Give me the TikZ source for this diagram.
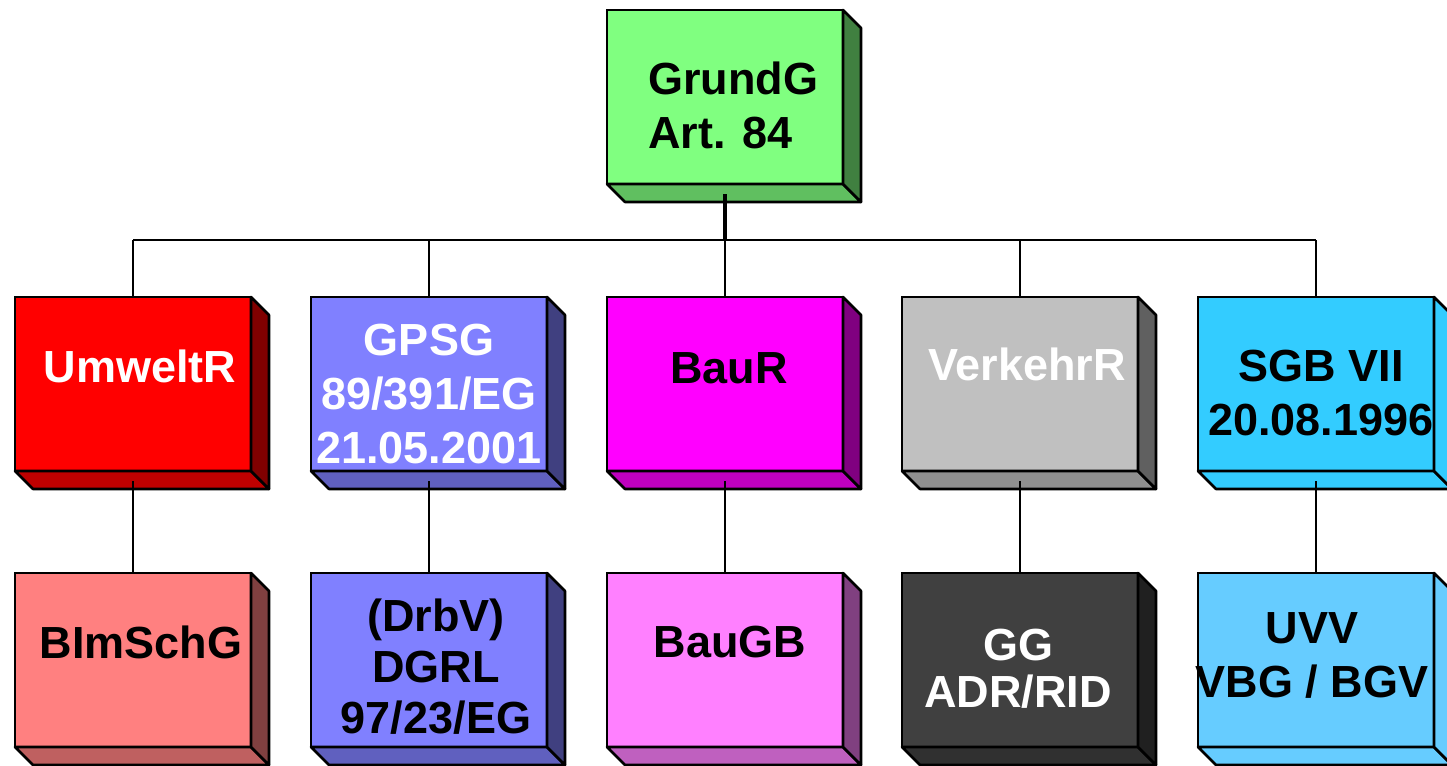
\documentclass[tikz,border=0pt]{standalone}
\usepackage{fontspec}
\setmainfont{Liberation Sans}
\definecolor{grundgreen}{HTML}{80FF80}
\definecolor{umwred}{HTML}{FF0000}
\definecolor{gpsgblue}{HTML}{8080FF}
\definecolor{baumag}{HTML}{FF00FF}
\definecolor{verkgray}{HTML}{C0C0C0}
\definecolor{sgbcyan}{HTML}{33CCFF}
\definecolor{bimsalmon}{HTML}{FF8080}
\definecolor{baugbpink}{HTML}{FF80FF}
\definecolor{ggdark}{HTML}{404040}
\definecolor{uvvblue}{HTML}{66CCFF}
\usetikzlibrary{calc}

\tikzset{
  face/.style={draw, line width=2.6pt, minimum width=236pt, minimum height=174pt,
    inner sep=0pt, outer sep=0pt, anchor=north west},
  side/.style={draw, line width=2.6pt, line join=round},
  conn/.style={line width=2.5pt},
  lbl/.style={font=\fontsize{45}{54}\selectfont\bfseries, align=center,
    anchor=base, inner sep=0pt},
}

% front face, then the right and bottom faces
\newcommand{\lawbox}[6]{%
  \node[face, fill=#4] (#1) at (#2,#3) {};
  \filldraw[side, fill=#6] (#1.south west) -- ++(18,18) -- ++(236,0) -- (#1.south east) -- cycle;
  \filldraw[side, fill=#5] (#1.north east) -- ++(18,18) -- ++(0,174) -- (#1.south east) -- cycle;
}

\begin{document}
\begin{tikzpicture}[x=1pt, y={(0pt,-1pt)}]
  \clip (0,0) rectangle (1447,765);

  % boxes
  \lawbox{grund}{607}{10}{grundgreen}{grundgreen!50!black}{grundgreen!75!black}
  \lawbox{umw}{15}{297}{umwred}{umwred!50!black}{umwred!75!black}
  \lawbox{gpsg}{311}{297}{gpsgblue}{gpsgblue!50!black}{gpsgblue!75!black}
  \lawbox{bau}{607}{297}{baumag}{baumag!50!black}{baumag!75!black}
  \lawbox{verk}{902}{297}{verkgray}{verkgray!50!black}{verkgray!75!black}
  \lawbox{sgb}{1198}{297}{sgbcyan}{sgbcyan}{sgbcyan}
  \lawbox{bimsch}{15}{573}{bimsalmon}{bimsalmon!50!black}{bimsalmon!75!black}
  \lawbox{drbv}{311}{573}{gpsgblue}{gpsgblue!50!black}{gpsgblue!75!black}
  \lawbox{baugb}{607}{573}{baugbpink}{baugbpink!50!black}{baugbpink!75!black}
  \lawbox{gg}{902}{573}{ggdark}{ggdark!50!black}{ggdark!75!black}
  \lawbox{uvv}{1198}{573}{uvvblue}{uvvblue}{uvvblue}

  % texts (base = last line)
  \node[lbl, align=left, anchor=base west] (tgrund) at (648,148) {GrundG\\Art. 84};
  \node[lbl, white] (tumw) at (140,382) {UmweltR};
  \node[lbl, white] (tgpsg) at (429,463) {GPSG\\89/391/EG\\21.05.2001};
  \node[lbl] (tbau) at (729,383) {BauR};
  \node[lbl, white] (tverk) at (1027,380) {VerkehrR};
  \node[lbl] (tsgb) at (1321,435) {SGB VII\\20.08.1996};
  \node[lbl] (tbimsch) at (141,658) {BImSchG};
  \node[lbl] (tdrbv) at (436,733) {(DrbV)\\[-3pt]DGRL\\[-3pt]97/23/EG};
  \node[lbl] (tbaugb) at (730,657) {BauGB};
  \node[lbl, white] (tgg) at (1018,707) {GG\\[-7pt]ADR/RID};
  \node[lbl] (tuvv) at (1312,697) {UVV\\VBG / BGV};

  % connectors
  \coordinate (bus) at (725,240);
  \draw[conn, line width=3.5pt] ([yshift=-10pt]grund.south) -- (bus);
  \draw[conn] (umw.north |- bus) -- (sgb.north |- bus);
  \foreach \n/\m in {umw/bimsch, gpsg/drbv, bau/baugb, verk/gg, sgb/uvv} {
    \draw[conn] (\n.north |- bus) -- (\n.north);
    \draw[conn] ([yshift=-10pt]\n.south) -- (\m.north);
  }
\end{tikzpicture}
\end{document}
